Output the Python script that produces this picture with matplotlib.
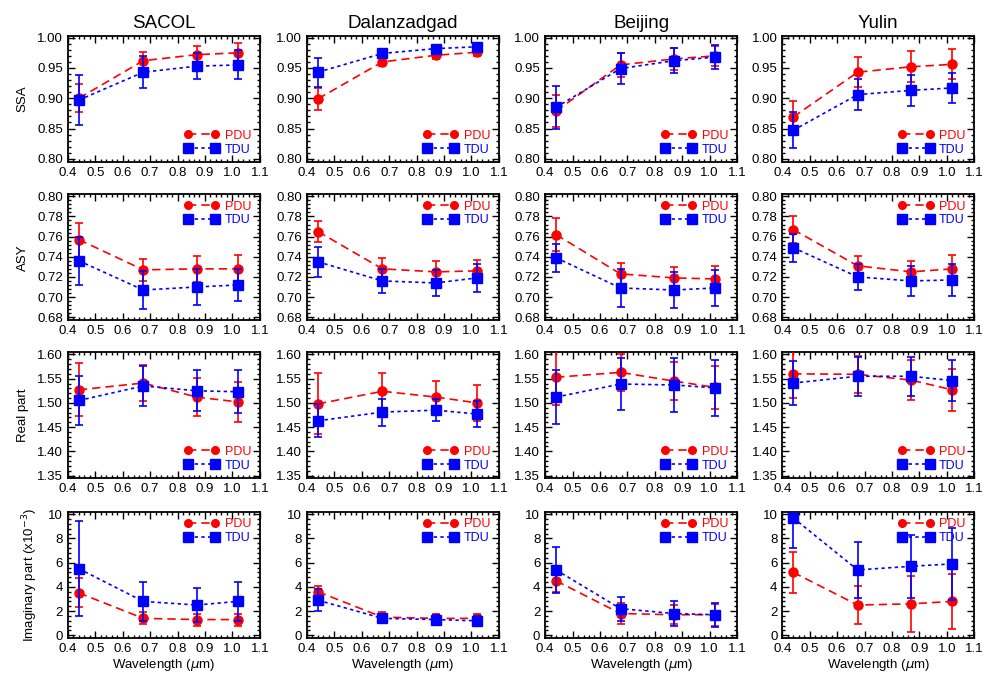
import numpy as np
import matplotlib
matplotlib.use("Agg")
from matplotlib import pyplot as plt
from matplotlib.ticker import MultipleLocator, AutoMinorLocator
from matplotlib.lines import Line2D

plt.rcParams['font.family'] = ['Liberation Sans', 'DejaVu Sans']

wavelength = [0.44, 0.675, 0.87, 1.02]
sites = ["SACOL", "Dalanzadgad", "Beijing", "Yulin"]

# SSA
ssa_pdu = [[0.900, 0.962, 0.972, 0.975], [0.899, 0.960, 0.971, 0.976],
           [0.879, 0.955, 0.965, 0.970], [0.869, 0.943, 0.952, 0.956]]
ssa_pdu_err = [[0.023, 0.015, 0.015, 0.016], [0.018, 0.007, 0.006, 0.006],
               [0.026, 0.020, 0.018, 0.017], [0.027, 0.025, 0.026, 0.025]]
ssa_tdu = [[0.897, 0.943, 0.953, 0.955], [0.943, 0.974, 0.982, 0.985],
           [0.885, 0.949, 0.962, 0.968], [0.847, 0.906, 0.913, 0.917]]
ssa_tdu_err = [[0.041, 0.026, 0.022, 0.024], [0.024, 0.007, 0.004, 0.004],
               [0.036, 0.025, 0.021, 0.020], [0.030, 0.025, 0.025, 0.025]]

# ASY
asy_pdu = [[0.757, 0.727, 0.728, 0.728], [0.765, 0.728, 0.725, 0.726],
           [0.762, 0.723, 0.719, 0.718], [0.767, 0.731, 0.725, 0.728]]
asy_pdu_err = [[0.017, 0.011, 0.013, 0.014], [0.010, 0.011, 0.011, 0.011],
               [0.016, 0.011, 0.011, 0.013], [0.013, 0.010, 0.011, 0.014]]
asy_tdu = [[0.736, 0.707, 0.710, 0.712], [0.735, 0.716, 0.714, 0.719],
           [0.739, 0.709, 0.707, 0.709], [0.749, 0.720, 0.716, 0.717]]
asy_tdu_err = [[0.024, 0.019, 0.018, 0.016], [0.015, 0.012, 0.013, 0.014],
               [0.014, 0.019, 0.018, 0.018], [0.014, 0.013, 0.015, 0.016]]

# real part
re_pdu = [[1.527, 1.541, 1.512, 1.502], [1.498, 1.524, 1.512, 1.500],
          [1.553, 1.563, 1.545, 1.532], [1.560, 1.559, 1.547, 1.527]]
re_pdu_err = [[0.055, 0.037, 0.039, 0.042], [0.063, 0.037, 0.034, 0.037],
              [0.058, 0.038, 0.040, 0.045], [0.050, 0.038, 0.041, 0.044]]
re_tdu = [[1.505, 1.535, 1.525, 1.523], [1.463, 1.481, 1.485, 1.477],
          [1.512, 1.539, 1.537, 1.531], [1.541, 1.555, 1.555, 1.546]]
re_tdu_err = [[0.050, 0.042, 0.042, 0.044], [0.034, 0.028, 0.023, 0.027],
              [0.055, 0.053, 0.055, 0.058], [0.045, 0.040, 0.040, 0.043]]

# imaginary part (x1e-3)
im_pdu = [[3.5, 1.4, 1.3, 1.3], [3.6, 1.5, 1.4, 1.4],
          [4.5, 1.8, 1.7, 1.7], [5.2, 2.5, 2.6, 2.8]]
im_pdu_err = [[1.2, 0.5, 0.5, 0.5], [0.5, 0.4, 0.4, 0.4],
              [0.9, 0.9, 0.8, 0.9], [1.7, 1.6, 2.3, 2.3]]
im_tdu = [[5.5, 2.8, 2.5, 2.8], [2.9, 1.4, 1.3, 1.2],
          [5.4, 2.2, 1.8, 1.7], [9.7, 5.4, 5.7, 5.9]]
im_tdu_err = [[3.9, 1.6, 1.4, 1.6], [0.9, 0.4, 0.4, 0.4],
              [1.9, 1.0, 1.0, 1.0], [2.5, 2.3, 2.6, 3.0]]

rows = [
    ("SSA", ssa_pdu, ssa_pdu_err, ssa_tdu, ssa_tdu_err, (0.795, 1.003), 0.05, "%.2f", "lower"),
    ("ASY", asy_pdu, asy_pdu_err, asy_tdu, asy_tdu_err, (0.677, 0.802), 0.02, "%.2f", "upper"),
    ("Real part", re_pdu, re_pdu_err, re_tdu, re_tdu_err, (1.345, 1.605), 0.05, "%.2f", "lower"),
    ("Imaginary part (x10$^{-3}$)", im_pdu, im_pdu_err, im_tdu, im_tdu_err, (-0.2, 10.2), 2, "%d", "upper"),
]

fig = plt.figure(figsize=(9.84, 6.77), dpi=100)

lefts = [0.069, 0.312, 0.554, 0.795]
bottoms = [0.761, 0.527, 0.294, 0.058]
w, h = 0.195, 0.186

red = "#FF0000"
blue = "#0000FF"

for r, (ylab, pdu, pdu_e, tdu, tdu_e, ylim, ystep, fmt, legpos) in enumerate(rows):
    for c in range(4):
        ax = fig.add_axes([lefts[c], bottoms[r], w, h])
        ax.errorbar(wavelength, pdu[c], yerr=pdu_e[c], color=red, ls=(0, (5, 3)), lw=1.2,
                    marker="o", ms=6.5, capsize=3, elinewidth=1.2, capthick=1.2, zorder=3)
        ax.errorbar(wavelength, tdu[c], yerr=tdu_e[c], color=blue, ls=(0, (2, 2)), lw=1.2,
                    marker="s", ms=7.5, capsize=3, elinewidth=1.2, capthick=1.2, zorder=4)
        ax.set_xlim(0.4, 1.1)
        ax.set_ylim(*ylim)
        ax.xaxis.set_major_locator(MultipleLocator(0.1))
        ax.xaxis.set_major_formatter(plt.FormatStrFormatter("%.1f"))
        ax.xaxis.set_minor_locator(AutoMinorLocator(5))
        ax.yaxis.set_major_locator(MultipleLocator(ystep))
        ax.yaxis.set_major_formatter(plt.FormatStrFormatter(fmt))
        ax.yaxis.set_minor_locator(AutoMinorLocator(5))
        ax.tick_params(which="both", direction="in", top=True, right=True, labelsize=9.5, width=1.0)
        ax.tick_params(which="major", length=5)
        ax.tick_params(which="minor", length=2.5)
        for s in ax.spines.values():
            s.set_linewidth(1.3)

        if r == 0:
            ax.set_title(sites[c], fontsize=13.5, pad=6)
        if c == 0:
            ax.set_ylabel(ylab, fontsize=9.5, labelpad=6)
        if r == 3:
            ax.set_xlabel("Wavelength ($\\mu$m)", fontsize=9.5, labelpad=2)

        handles = [
            Line2D([], [], color=red, ls=(0, (5, 3)), lw=1.2, marker="o", ms=5.5),
            Line2D([], [], color=blue, ls=(0, (2, 2)), lw=1.2, marker="s", ms=6.5),
        ]
        if legpos == "lower":
            loc, anchor = "lower right", (1.0, -0.02)
        else:
            loc, anchor = "upper right", (1.0, 1.02)
        ax.legend(handles, ["PDU", "TDU"], loc=loc, bbox_to_anchor=anchor, frameon=False,
                  numpoints=2, handlelength=2.8, handletextpad=0.45, labelspacing=0.15,
                  fontsize=9, labelcolor="linecolor", borderaxespad=0.4, borderpad=0.3)

fig.savefig("out.png", dpi=100)
